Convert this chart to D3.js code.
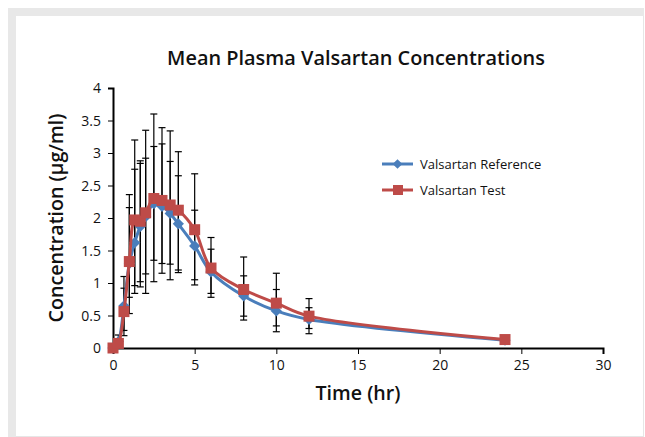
<!DOCTYPE html>
<html>
<head>
<meta charset="utf-8">
<script src="https://cdn.jsdelivr.net/npm/d3@7"></script>
<style>
  body { margin: 0; background: #ffffff; }
  svg { display: block; }
</style>
</head>
<body>
<div id="main"></div>
<script>
// sampling times (hr)
const times = [0, 0.33, 0.67, 1, 1.33, 1.67, 2, 2.5, 3, 3.5, 4, 5, 6, 8, 10, 12, 24];
// mean concentrations (µg/ml)
const refMean  = [0, 0.1, 0.65, 1.3, 1.62, 1.87, 2.02, 2.22, 2.18, 2.07, 1.91, 1.57, 1.17, 0.8, 0.57, 0.44, 0.12];
const testMean = [0, 0.07, 0.56, 1.33, 1.97, 1.95, 2.08, 2.3, 2.27, 2.2, 2.12, 1.82, 1.23, 0.9, 0.69, 0.49, 0.13];
// error bar ends
const refLow   = [0, 0.02, 0.19, 0.53, 0.84, 0.94, 0.84, 1.02, 1.15, 1.05, 1.16, 0.97, 0.78, 0.43, 0.25, 0.22, 0.06];
const refHigh  = [0, 0.2, 1.1, 2.16, 2.75, 2.84, 2.92, 3.1, 3.14, 2.87, 2.65, 2.12, 1.52, 1.11, 0.9, 0.62, 0.18];
const testLow  = [0, 0, 0.27, 0.78, 0.96, 1.02, 1.14, 1.35, 1.3, 1.29, 1.2, 1.05, 0.84, 0.49, 0.34, 0.3, 0.07];
const testHigh = [0, 0.14, 0.92, 2.36, 3.2, 2.88, 3.35, 3.6, 3.39, 3.34, 3.02, 2.68, 1.7, 1.4, 1.15, 0.76, 0.19];

const xTicks = [0, 5, 10, 15, 20, 25, 30];
const yTicks = [0, 0.5, 1, 1.5, 2, 2.5, 3, 3.5, 4];
const seriesNames = ['Valsartan Reference', 'Valsartan Test'];

const width = 645, height = 437;
const blue = '#4a7ebb', red = '#be4b48';
const font = '"Open Sans", Lato, sans-serif';

const svg = d3.select('#main').append('svg')
  .attr('width', width)
  .attr('height', height);

// shrink or grow a text's font size so it spans about the given width
function fitText(sel, target) {
  const node = sel.node();
  const size = parseFloat(sel.style('font-size'));
  const w = node.getComputedTextLength();
  if (w > 0) sel.style('font-size', (size * target / w).toFixed(2) + 'px');
  return sel;
}

// frame
svg.append('rect')
  .attr('x', 8.5).attr('y', 8.5)
  .attr('width', 635).attr('height', 428)
  .attr('fill', '#ffffff')
  .attr('stroke', '#e6e6e6');
svg.append('rect').attr('x', 8).attr('y', 8).attr('width', 636).attr('height', 8).attr('fill', '#e8e8e8');
svg.append('rect').attr('x', 8).attr('y', 8).attr('width', 8).attr('height', 429).attr('fill', '#e8e8e8');

const x = d3.scaleLinear().domain([0, 30]).range([113, 603]);
const y = d3.scaleLinear().domain([0, 4]).range([348, 88]);

// title
fitText(svg.append('text')
  .attr('x', 356).attr('y', 65)
  .attr('text-anchor', 'middle')
  .style('font-family', font)
  .style('font-weight', 600)
  .style('font-size', '18px')
  .attr('fill', '#111')
  .text('Mean Plasma Valsartan Concentrations'), 378);

// axes
const xAxis = svg.append('g')
  .attr('transform', `translate(0, ${y(0)})`)
  .call(d3.axisBottom(x).tickValues(xTicks).tickSize(6).tickSizeOuter(6).tickPadding(6));
const yAxis = svg.append('g')
  .attr('transform', `translate(${x(0)}, 0)`)
  .call(d3.axisLeft(y).tickValues(yTicks).tickSize(5).tickSizeOuter(5).tickFormat(d => d).tickPadding(7));
[xAxis, yAxis].forEach(g => {
  g.select('.domain').attr('stroke', '#000').attr('stroke-width', 2);
  g.selectAll('.tick line').attr('stroke', '#000').attr('stroke-width', 1);
  g.selectAll('.tick text')
    .attr('fill', '#111')
    .style('font-family', font)
    .style('font-size', '14px');
});
xAxis.selectAll('.tick line').attr('y1', 0);
yAxis.selectAll('.tick text').attr('dy', '0.35em');

// axis titles
fitText(svg.append('text')
  .attr('x', 358).attr('y', 400)
  .attr('text-anchor', 'middle')
  .style('font-family', font)
  .style('font-weight', 600)
  .style('font-size', '18px')
  .attr('fill', '#111')
  .text('Time (hr)'), 85);
fitText(svg.append('text')
  .attr('transform', `translate(63, 218) rotate(-90)`)
  .attr('text-anchor', 'middle')
  .style('font-family', font)
  .style('font-weight', 600)
  .style('font-size', '18px')
  .attr('fill', '#111')
  .text('Concentration (µg/ml)'), 209);

// error bars
const errData = [];
times.forEach((t, i) => {
  errData.push({ t: t, lo: refLow[i], hi: refHigh[i] });
  errData.push({ t: t, lo: testLow[i], hi: testHigh[i] });
});
const errG = svg.append('g')
  .attr('stroke', '#000')
  .attr('stroke-width', 1.2);
errData.filter(d => d.hi > d.lo).forEach(d => {
  const cx = x(d.t);
  errG.append('line').attr('x1', cx).attr('x2', cx).attr('y1', y(d.lo)).attr('y2', y(d.hi));
  errG.append('line').attr('x1', cx - 3.5).attr('x2', cx + 3.5).attr('y1', y(d.lo)).attr('y2', y(d.lo));
  errG.append('line').attr('x1', cx - 3.5).attr('x2', cx + 3.5).attr('y1', y(d.hi)).attr('y2', y(d.hi));
});

// lines
const line = d3.line()
  .x(d => x(d[0]))
  .y(d => y(d[1]))
  .curve(d3.curveCatmullRom.alpha(0.5));
const refPts = times.map((t, i) => [t, refMean[i]]);
const testPts = times.map((t, i) => [t, testMean[i]]);

svg.append('path')
  .datum(refPts)
  .attr('d', line)
  .attr('fill', 'none')
  .attr('stroke', blue)
  .attr('stroke-width', 3);
svg.append('g')
  .selectAll('path')
  .data(refPts)
  .join('path')
    .attr('transform', d => `translate(${x(d[0])}, ${y(d[1])})`)
    .attr('d', d3.symbol(d3.symbolDiamond2, 80))
    .attr('fill', blue);

svg.append('path')
  .datum(testPts)
  .attr('d', line)
  .attr('fill', 'none')
  .attr('stroke', red)
  .attr('stroke-width', 3);
svg.append('g')
  .selectAll('rect')
  .data(testPts)
  .join('rect')
    .attr('x', d => x(d[0]) - 5.5)
    .attr('y', d => y(d[1]) - 5.5)
    .attr('width', 11)
    .attr('height', 11)
    .attr('fill', red);

// legend
const legend = svg.append('g');
const legendRows = [
  { name: seriesNames[0], color: blue, shape: 'diamond', y: 164 },
  { name: seriesNames[1], color: red, shape: 'square', y: 190 }
];
legendRows.forEach(r => {
  legend.append('line')
    .attr('x1', 382).attr('x2', 413)
    .attr('y1', r.y).attr('y2', r.y)
    .attr('stroke', r.color)
    .attr('stroke-width', 3);
  if (r.shape === 'diamond') {
    legend.append('path')
      .attr('transform', `translate(397.5, ${r.y})`)
      .attr('d', d3.symbol(d3.symbolDiamond2, 60))
      .attr('fill', r.color);
  } else {
    legend.append('rect')
      .attr('x', 393).attr('y', r.y - 5)
      .attr('width', 10).attr('height', 10)
      .attr('fill', r.color);
  }
  legend.append('text')
    .attr('x', 420).attr('y', r.y + 5)
    .style('font-family', font)
    .style('font-size', '13px')
    .attr('fill', '#111')
    .text(r.name);
});
</script>
</body>
</html>
